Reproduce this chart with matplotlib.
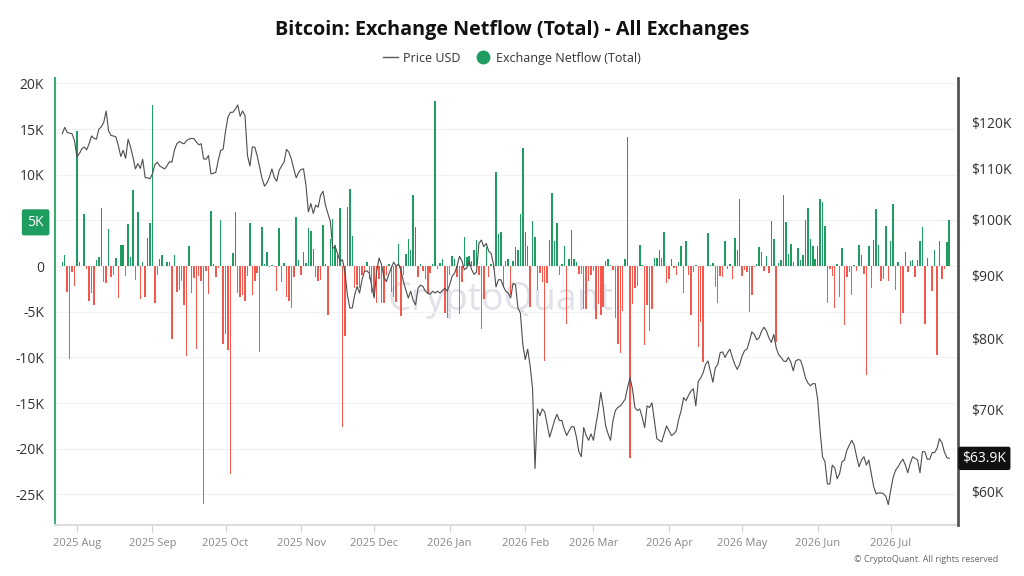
#BIBLIOTECAS
import matplotlib
matplotlib.use('Agg')
import matplotlib.pyplot as plt
import matplotlib.dates as mdates
import matplotlib.transforms as mtransforms
from matplotlib.lines import Line2D
import numpy as np
import pandas as pd

plt.rcParams['font.family'] = ['Open Sans', 'DejaVu Sans']

#DADOS - UM VALOR POR DIA A PARTIR DE inicio
inicio = '2025-07-26'

#NETFLOW EM MILHARES DE BTC
netflow_k = [
    0.4, 1.2, -2.9, -10.2, -0.7, -2.2, 14.8, 0.4, 0, 5.7,
    -0.3, -3.8, -3.0, -4.3, 0.7, 1.0, 6.3, -1.7, -1.9, 4.1,
    -1.2, -1.0, 0.9, -3.5, 2.3, 2.3, -1.1, 4.6, 1.0, 8.3,
    -1.5, 5.9, -3.6, 0.4, -3.4, 3.1, 4.7, 17.6, -4.0, -1.0,
    0.8, 1.2, 0, 0.4, 0.4, -8.0, 1.2, -2.9, -2.6, -1.6,
    -4.3, -9.9, 2.2, -3.0, -1.3, -9.1, -1.1, -1.6, -26.1, -0.6,
    -3.1, 6.0, 0.2, -1.2, -0.2, 5.0, -8.5, -7.4, -9.2, -22.8,
    1.4, 5.9,
    -3.0, -3.4, -3.2, -3.8, -1.1, 4.7, -3.2, -1.6, -0.8, -9.4,
    4.3, 0.2, 1.5, -0.1, 0.1, -0.1, -2.7, 4.2, -1.8, 0.3,
    -3.4, -3.8, -4.6, -1.2, 5.4, 0.7, -1.0, 1.5, 0.3, 4.2,
    3.8, 1.9, -1.2, -1.6, -1.5, 4.5, 0.2, -5.4, 3.0, 5.2,
    2.3, 1.2, 6.3, -17.6, -7.7, 6.5, 8.4, 3.3, -2.4, -2.1,
    -2.4, -1.0, -0.6, 0.4, -1.4, -3.0, -3.3, -4.0, -1.4, -4.0,
    -4.0, -1.0, 0.2, -2.8, -3.4, -3.9, 2.4, -5.5, -1.0, 1.3,
    3.0, 1.8, 7.8, 4.3,
    -1.2, 0.2, -0.5, -1.4, -3.1, -0.8, 0.2, 18.1, -0.3, 0.3,
    0.8, -5.1, -5.7, -1.0, 1.1, 0.8, -1.2, -5.3, -1.7, 3.2,
    1.0, 1.1, 0.5, 1.8, 2.8, -1.0, -6.9, -3.6, 2.1, -1.2,
    0.2, -0.3, 10.3, 3.5, 3.7, -2.3, 0.6, 0.8, -3.2, 0.5,
    2.1, 1.8, 5.7, 12.9, 3.7, 2.2, -4.5, 4.9, 3.2, -2.6,
    -0.8, -1.7, -10.4, -1.9, 2.9, 8.0, 2.7, 4.7, -1.0, 0.2,
    2.2, -6.3, 0.8, 3.9, 0.8, 0.4, -0.9, -0.9, -4.7, -4.7,
    -1.6, -1.0, -0.6,
    -5.8, -4.2, -5.4, -4.5, 0.6, 0.8, 0.1, -0.4, -5.7, -8.5,
    -9.5, -4.9, 0.8, 14.1, -21.0, -4.2, -2.4, -2.2, 2.3, 0.1,
    -8.7, -4.3, -7.1, -4.7, 0.9, 0.9, 1.8, 0.9, 3.7, -1.9,
    -1.4, 0.8, -0.2, -1.0, 0.4, 2.2, -3.0, 2.7, -1.0, -5.4,
    -0.7, 0.1, -8.9, -6.1, -10.5, 0, 3.6, 0.1, 0.3, -2.3,
    -4.1, -1.1, -1.2, 2.7, -0.3, 0.2, -1.4, 3.1, 1.8, 7.3,
    -1.1, -0.4, -0.7, -5.0, -3.2, -0.1, 0.2, 2.1, 1.5, -0.6,
    1.1, -0.8, 4.9, 3.0,
    -8.3, 0.3, 0.7, 7.8, 4.8, 1.3, 2.4, 0.4, 0, 2.0,
    0.7, 1.2, 5.0, 6.3, 3.0, 2.2, 0.8, 2.2, 7.3, 7.0,
    4.4, -4.1, -0.3, -1.1, -4.6, 0.2, -3.4, 2.0, -6.5, -1.2,
    -0.7, -3.2, 0.1, -0.5, 2.3, 1.2, -0.9, -11.9, 2.2, -2.4,
    2.8, 6.2, 2.3, -1.6, -1.4, 4.4, -1.6, 2.7, 6.8, -2.6,
    0.4, -6.4, -5.1, 1.5, -0.7, 0.5, 0.7, -1.2, 0.7, 2.7,
    4.3, -6.3, 0.9, 0, -2.7, 1.8, -9.7, 2.7, -1.4, -0.3,
    2.6, 5.0,
]

#PRECO EM MILHARES DE USD
preco_k = [
    117.4, 118.8, 117.7, 117.5, 117.4, 115.9, 112.4, 113.1, 114.1, 114.5,
    113.9, 115.2, 116.9, 116.4, 116.2, 118.4, 118.9, 119.9, 122.5, 118.0,
    117.0, 116.9, 116.7, 114.8, 112.5, 113.8, 112.1, 116.2, 114.5, 112.4,
    109.9, 111.0, 110.0, 111.9, 108.1, 108.1, 107.9, 108.9, 110.8, 111.3,
    110.5, 110.2, 109.9, 110.6, 111.4, 111.3, 113.8, 115.2, 115.7, 115.4,
    115.2, 115.9, 116.2, 116.4, 116.3, 115.6, 115.0, 115.2, 112.0, 111.9,
    112.7, 108.9, 109.0, 109.2, 111.7, 113.8, 114.0, 118.0, 121.1, 122.2,
    122.2, 122.9,
    123.9, 121.3, 122.5, 121.4, 112.7, 110.5, 114.5, 114.5, 112.6, 110.2,
    107.9, 106.4, 107.1, 108.2, 109.9, 108.2, 107.4, 109.6, 110.5, 111.3,
    114.0, 113.4, 112.0, 109.9, 108.1, 109.2, 109.8, 109.9, 106.6, 101.4,
    103.0, 101.1, 102.7, 102.3, 104.6, 105.4, 102.7, 101.1, 99.6, 94.7,
    95.0, 93.8, 92.4, 92.7, 90.7, 86.8, 84.7, 84.7, 86.8, 88.2,
    87.1, 89.3, 90.7, 90.8, 90.4, 88.2, 86.3, 90.7, 93.0, 91.9,
    89.7, 89.0, 90.2, 91.3, 92.3, 91.6, 92.0, 90.8, 89.0, 87.6,
    86.3, 87.4, 85.9, 85.2,
    87.9, 88.4, 88.2, 87.4, 87.1, 86.9, 87.4, 87.1, 87.4, 87.1,
    87.5, 87.9, 87.4, 88.5, 89.9, 90.4, 91.6, 93.3, 92.5, 91.0,
    91.3, 92.5, 91.0, 90.2, 90.6, 95.6, 96.2, 95.0, 95.6, 94.2,
    93.8, 91.9, 88.1, 89.3, 89.3, 88.2, 87.4, 87.1, 86.3, 88.7,
    88.5, 84.7, 83.9, 79.1, 76.9, 78.4, 76.0, 72.8, 62.7, 70.1,
    69.2, 70.1, 69.7, 68.1, 66.5, 67.5, 68.6, 69.4, 68.6, 68.6,
    67.5, 66.7, 67.3, 67.8, 67.8, 66.5, 64.7, 64.1, 67.7, 66.7,
    66.1, 66.9, 66.1, 68.1,
    69.9, 72.3, 70.3, 67.9, 66.9, 66.1, 68.6, 69.9, 70.3, 70.5,
    70.9, 71.4, 73.0, 74.3, 72.8, 70.3, 69.9, 70.1, 69.0, 67.7,
    70.5, 70.3, 70.9, 68.6, 66.3, 66.1, 65.9, 66.9, 67.9, 67.3,
    66.7, 66.9, 67.3, 68.8, 69.9, 71.6, 71.2, 71.9, 72.5, 72.8,
    70.5, 73.8, 74.3, 75.0, 76.2, 76.7, 75.2, 73.7, 75.7, 76.2,
    77.9, 78.0, 77.2, 77.9, 78.4, 77.2, 76.2, 75.5, 76.2, 77.4,
    78.2, 78.4, 79.6, 81.0, 80.6, 79.8, 80.1, 81.1, 81.7, 81.1,
    80.1, 79.4, 80.6,
    78.6, 77.6, 77.2, 76.7, 76.6, 77.2, 76.5, 75.3, 76.7, 76.9,
    76.8, 75.7, 74.3, 73.6, 73.2, 73.5, 73.5, 71.4, 67.3, 64.1,
    63.5, 60.9, 60.9, 63.1, 62.8, 61.5, 62.1, 63.5, 63.7, 64.9,
    65.5, 66.1, 65.5, 64.1, 62.9, 63.7, 64.1, 63.1, 63.7, 62.1,
    60.6, 59.8, 59.9, 59.9, 59.8, 59.5, 58.6, 60.2, 61.7, 62.5,
    62.9, 63.4, 63.8, 63.1, 62.2, 63.3, 64.1, 63.9, 63.7, 62.2,
    64.7, 64.7, 63.8, 63.8, 64.6, 64.6, 65.1, 66.3, 65.8, 64.7,
    64.0, 63.9,
]

#EIXOS
ticks_esq = [-25000, -20000, -15000, -10000, -5000, 0, 5000, 10000, 15000, 20000]
rotulos_esq = ['-25K', '-20K', '-15K', '-10K', '-5K', '0', '5K', '10K', '15K', '20K']
ticks_dir = [60000, 70000, 80000, 90000, 100000, 110000, 120000]
rotulos_dir = ['$60K', '$70K', '$80K', '$90K', '$100K', '$110K', '$120K']
ultimo_preco = 63900
rotulo_ultimo = '$63.9K'

VERDE = '#1f9d60'
VERMELHO = '#f4574b'

datas = pd.date_range(inicio, periods=len(netflow_k), freq='D')
netflow = np.array(netflow_k) * 1000
preco = np.array(preco_k) * 1000

fig = plt.figure(figsize=(10.24, 5.76), dpi=100)
ax = fig.add_axes([0.0537, 0.0885, 0.882, 0.776])
ax2 = ax.twinx()

#BARRAS DO NETFLOW
cores = np.where(netflow >= 0, VERDE, VERMELHO)
ax.bar(datas, netflow, width=0.6, color=cores, zorder=2)

#LINHA DO PRECO (ESCALA LOG)
ax2.plot(datas, preco, color='#4d4d4d', lw=0.8)
ax2.set_yscale('log')

ax.set_xlim(pd.Timestamp('2025-07-23'), pd.Timestamp('2026-07-28 16:00'))
ax.set_ylim(-28360, 20580)
ax2.set_ylim(56400, 130300)

#MARCA D'AGUA
ax.text(0.493, 0.503, 'CryptoQuant', transform=ax.transAxes, fontsize=27,
        color='#e1e1ea', ha='center', va='center', zorder=1)

#TICKS DA ESQUERDA
ax.set_yticks(ticks_esq, labels=rotulos_esq)
ax.tick_params(axis='y', length=0, pad=8, labelsize=10, labelcolor='#333333')
ax.grid(axis='y', color='#f1f1f1', lw=0.8, zorder=0)
lbl = ax.get_yticklabels()[ticks_esq.index(5000)]
lbl.set_color('white')
lbl.set_bbox(dict(boxstyle='round,pad=0.4,rounding_size=0.15', fc=VERDE, ec='none'))

#TICKS DA DIREITA
ax2.yaxis.set_minor_locator(matplotlib.ticker.NullLocator())
ax2.set_yticks(ticks_dir, labels=rotulos_dir)
ax2.yaxis.set_minor_formatter(matplotlib.ticker.NullFormatter())
ax2.tick_params(axis='y', length=0, pad=9, labelsize=10, labelcolor='#333333')

trans = mtransforms.blended_transform_factory(ax2.transAxes, ax2.transData)
ax2.text(1.0047, ultimo_preco, rotulo_ultimo, transform=trans, fontsize=10,
         color='white', ha='left', va='center',
         bbox=dict(boxstyle='round,pad=0.3,rounding_size=0.15', fc='#111111', ec='none'))

#TICKS DE DATA
ax.xaxis.set_major_locator(mdates.MonthLocator())
ax.xaxis.set_major_formatter(mdates.DateFormatter('%Y %b'))
ax.tick_params(axis='x', length=5, color='#d0d0d0', labelsize=8, labelcolor='#888888', pad=4)

#BORDAS
for a in (ax, ax2):
    a.spines['top'].set_visible(False)
    a.spines['left'].set_visible(False)
    a.spines['right'].set_visible(False)
    a.spines['bottom'].set_visible(False)
ax.spines['left'].set_visible(True)
ax.spines['left'].set_color('#3cae74')
ax.spines['left'].set_linewidth(1.5)
ax.spines['bottom'].set_visible(True)
ax.spines['bottom'].set_color('#dddddd')
ax.spines['bottom'].set_linewidth(1.5)
ax2.spines['right'].set_visible(True)
ax2.spines['right'].set_color('#555555')
ax2.spines['right'].set_linewidth(2)

#TITULO, LEGENDA E RODAPE
fig.text(0.5, 0.948, 'Bitcoin: Exchange Netflow (Total) - All Exchanges',
         fontsize=14.2, weight='bold', ha='center', va='center', color='#111111')
itens = [Line2D([0], [0], color='#555555', lw=1),
         Line2D([0], [0], marker='o', color='none', markerfacecolor=VERDE,
                markeredgecolor=VERDE, markersize=9)]
fig.legend(itens, ['Price USD', 'Exchange Netflow (Total)'], loc='center',
           bbox_to_anchor=(0.5, 0.899), ncol=2, frameon=False, fontsize=9,
           handlelength=1.2, handletextpad=0.4, columnspacing=1.2, labelcolor='#333333')
fig.text(0.975, 0.0295, '\u00a9 CryptoQuant. All rights reserved', fontsize=6.5,
         color='#666666', ha='right', va='center')

plt.savefig('out.png', dpi=100)
